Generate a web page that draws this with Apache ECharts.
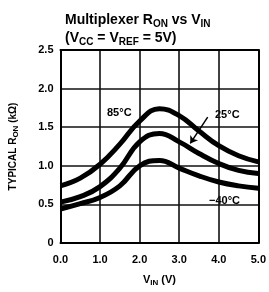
<!DOCTYPE html>
<html>
<head>
<meta charset="utf-8">
<script src="https://cdn.jsdelivr.net/npm/echarts@6/dist/echarts.min.js"></script>
<style>
  html, body { margin: 0; padding: 0; background: #fff; }
  #main { width: 269px; height: 292px; }
</style>
</head>
<body>
<div id="main"></div>
<script>
// input voltage (V)
var vin = [0, 0.5, 1.0, 1.5, 2.0, 2.5, 3.0, 3.5, 4.0, 4.5, 5.0]
// typical Ron (kOhm) per temperature
var ron85 = [0.74, 0.84, 1.02, 1.28, 1.58, 1.74, 1.65, 1.45, 1.26, 1.13, 1.05]
var ron25 = [0.53, 0.60, 0.73, 0.97, 1.31, 1.42, 1.31, 1.16, 1.03, 0.94, 0.90]
var ronM40 = [0.44, 0.51, 0.59, 0.74, 1.00, 1.07, 0.97, 0.87, 0.79, 0.74, 0.71]
var curveNames = ['85°C', '25°C', '\u221240°C']

var font = "'Liberation Sans', Arial, sans-serif"
var myChart = echarts.init(document.getElementById('main'))

function pairs(ys) {
  return vin.map(function (x, i) { return [x, ys[i]] })
}

function curve(name, ys) {
  return {
    name: name,
    type: 'line',
    smooth: 0.45,
    showSymbol: false,
    data: pairs(ys),
    z: 5,
    lineStyle: { color: '#000', width: 5 }
  }
}

var s25 = curve(curveNames[1], ron25)
// 25°C pointer arrow
s25.markLine = {
  silent: true,
  symbol: ['none', 'arrow'],
  symbolSize: 7,
  label: { show: false },
  lineStyle: { color: '#000', width: 1.5, type: 'solid' },
  data: [[{ coord: [3.72, 1.63] }, { coord: [3.28, 1.29] }]]
}

var labelFont = { fontFamily: font, fontWeight: 'bold', fontSize: 11, color: '#000' }
// frame on top / right, no labels
var frameX = { type: 'value', position: 'top', min: 0, max: 5, interval: 1,
  axisLine: { show: true, onZero: false, lineStyle: { color: '#000', width: 2 } },
  axisTick: { show: false }, axisLabel: { show: false }, splitLine: { show: false } }
var frameY = { type: 'value', position: 'right', min: 0, max: 2.5, interval: 0.5,
  axisLine: { show: true, onZero: false, lineStyle: { color: '#000', width: 2 } },
  axisTick: { show: false }, axisLabel: { show: false }, splitLine: { show: false } }

var gridLine = { show: true, lineStyle: { color: '#111', width: 1.6, type: 'solid', opacity: 1 } }

var option = {
  animation: false,
  title: {
    left: 60,
    top: 6,
    text: '{b|Multiplexer R}{s|ON}{b| vs V}{s|IN}\n{b|(V}{s|CC}{b| = V}{s|REF}{b| = 5V)}',
    textStyle: {
      rich: {
        b: { fontFamily: font, fontWeight: 'bold', fontSize: 14, color: '#000', lineHeight: 18 },
        s: { fontFamily: font, fontWeight: 'bold', fontSize: 10, color: '#000', lineHeight: 18, verticalAlign: 'bottom', padding: [5, 0, 0, 0] }
      }
    }
  },
  grid: {
    left: 57,
    right: 3,
    top: 50,
    bottom: 46
  },
  xAxis: [{
    type: 'value',
    min: 0,
    max: 5,
    interval: 1,
    name: '{b|V}{s|IN}{b| (V)}',
    nameLocation: 'middle',
    nameGap: 30,
    nameTextStyle: {
      rich: {
        b: { fontFamily: font, fontWeight: 'bold', fontSize: 11, color: '#000', lineHeight: 14 },
        s: { fontFamily: font, fontWeight: 'bold', fontSize: 8, color: '#000', lineHeight: 14, verticalAlign: 'bottom' }
      }
    },
    axisLine: { show: true, lineStyle: { color: '#000', width: 2 } },
    axisTick: { show: false },
    splitLine: gridLine,
    axisLabel: Object.assign({ margin: 11, formatter: function (v) { return v.toFixed(1) } }, labelFont)
  }, frameX],
  yAxis: [{
    type: 'value',
    min: 0,
    max: 2.5,
    interval: 0.5,
    name: '{b|TYPICAL R}{s|ON}{b| (k\u03a9)}',
    nameLocation: 'middle',
    nameRotate: 90,
    nameGap: 41,
    nameTextStyle: {
      rich: {
        b: { fontFamily: font, fontWeight: 'bold', fontSize: 10, color: '#000', lineHeight: 13 },
        s: { fontFamily: font, fontWeight: 'bold', fontSize: 8, color: '#000', lineHeight: 13, verticalAlign: 'bottom' }
      }
    },
    axisLine: { show: true, lineStyle: { color: '#000', width: 2 } },
    axisTick: { show: false },
    splitLine: gridLine,
    axisLabel: Object.assign({ margin: 7, formatter: function (v) { return v === 0 ? '0' : v.toFixed(1) } }, labelFont)
  }, frameY],
  graphic: [
    { type: 'text', left: 107, top: 107, style: { text: curveNames[0], font: 'bold 11px ' + font, fill: '#000' } },
    { type: 'text', left: 215, top: 109, style: { text: curveNames[1], font: 'bold 11px ' + font, fill: '#000' } },
    { type: 'text', left: 209, top: 195, style: { text: curveNames[2], font: 'bold 11px ' + font, fill: '#000' } }
  ],
  series: [
    curve(curveNames[0], ron85),
    s25,
    curve(curveNames[2], ronM40)
  ]
}

myChart.setOption(option)
</script>
</body>
</html>
